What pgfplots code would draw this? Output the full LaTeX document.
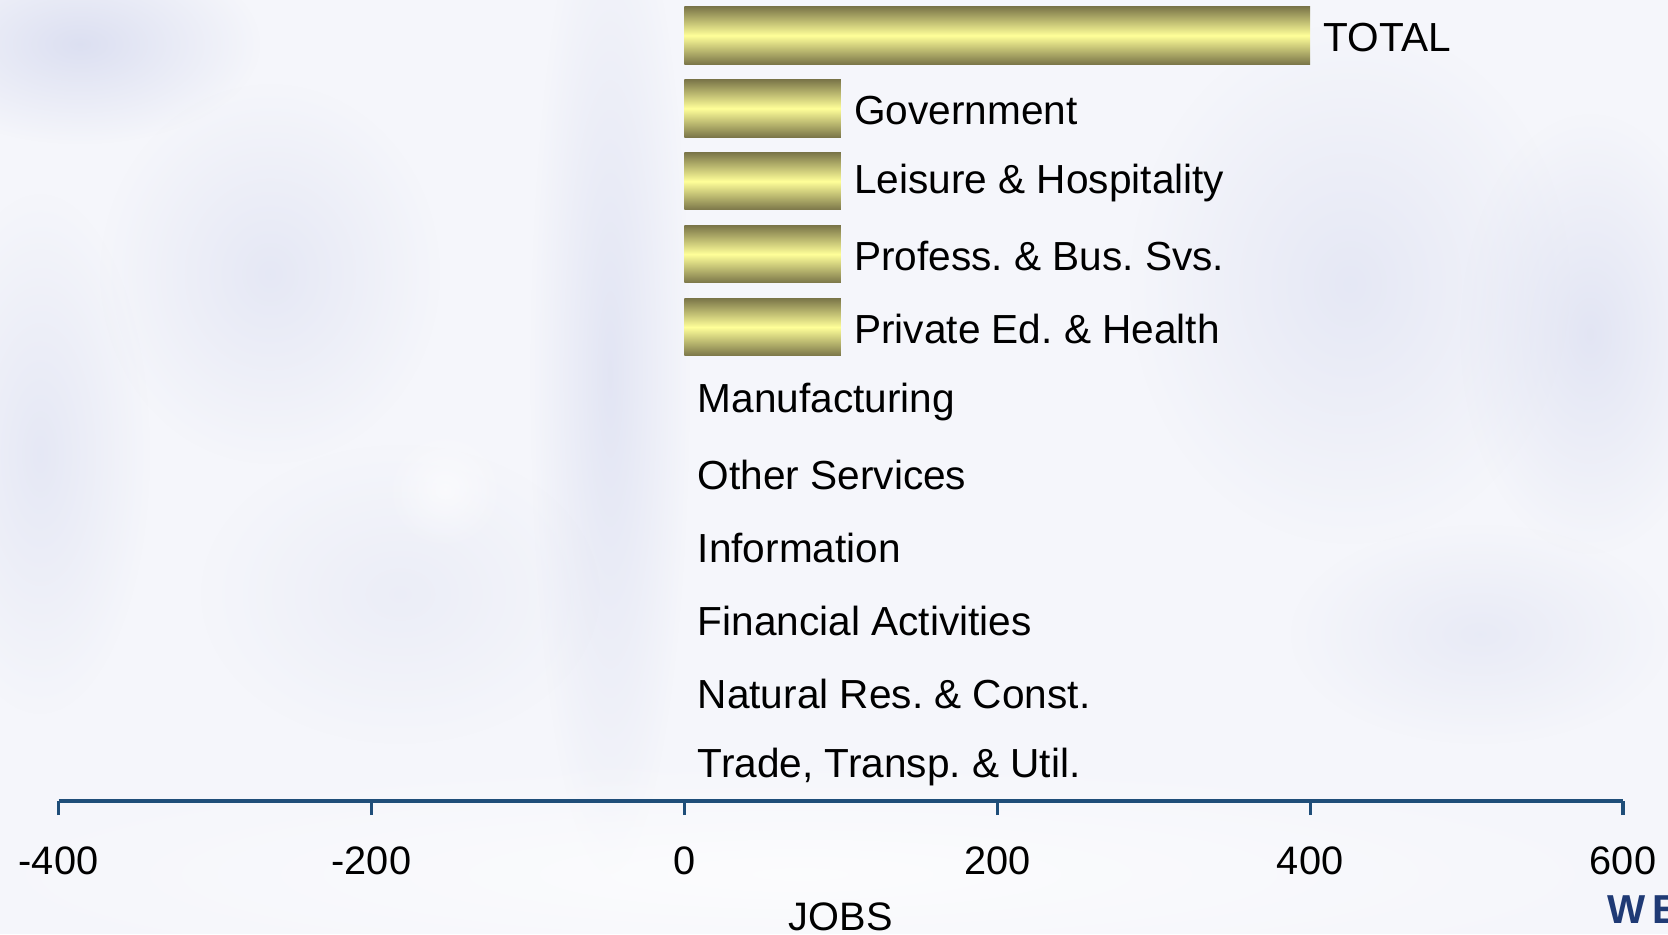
\documentclass[border=0pt]{standalone}
\usepackage{fontspec}
\setmainfont{Liberation Sans}
\usepackage{pgfplots}
\pgfplotsset{compat=1.18}
\usetikzlibrary{fadings}
\tikzfading[name=blobfade, inner color=transparent!0, outer color=transparent!100]
\definecolor{axisblue}{HTML}{1F4E79}
\definecolor{barolive}{HTML}{7B7649}
\definecolor{baryellow}{HTML}{FFFF99}
\definecolor{bgbase}{HTML}{F5F6FB}
\definecolor{bglav}{HTML}{D6DAEF}
\definecolor{logoblue}{HTML}{1F3A75}
\newcommand{\lblfont}{\fontsize{11.55}{14}\selectfont}
\newcommand{\tickfont}{\fontsize{11.3}{13.5}\selectfont}
\frenchspacing
\pgfplotsset{goldbar/.style={draw=none, top color=barolive, bottom color=barolive, middle color=baryellow}}
\begin{document}
\begin{tikzpicture}[x=1cm,y=1cm]
\useasboundingbox (0,0) rectangle (16.68,9.34);
\clip (0,0) rectangle (16.68,9.34);
\fill[bgbase] (0,0) rectangle (16.68,9.34);
% blurred background
\fill[bglav, path fading=blobfade, opacity=0.8] (0.8,8.9) ellipse (1.8 and 1.0);
\fill[bglav, path fading=blobfade, opacity=0.5] (0.4,4.8) ellipse (1.1 and 2.6);
\fill[bglav, path fading=blobfade, opacity=0.5] (2.7,6.6) ellipse (1.7 and 1.9);
\fill[bglav, path fading=blobfade, opacity=0.6] (6.1,5.6) ellipse (0.8 and 5.0);
\fill[bglav, path fading=blobfade, opacity=0.5] (13.5,6.5) ellipse (2.2 and 2.6);
\fill[bglav, path fading=blobfade, opacity=0.6] (15.9,6.0) ellipse (1.3 and 2.2);
\fill[bglav, path fading=blobfade, opacity=0.4] (14.8,3.0) ellipse (1.9 and 1.1);
\fill[bglav, path fading=blobfade, opacity=0.3] (4.0,3.4) ellipse (2.0 and 1.5);
\fill[white, path fading=blobfade, opacity=0.6] (4.45,4.45) circle (0.6);
\fill[white, path fading=blobfade, opacity=0.7] (8.0,0.6) ellipse (9 and 1.2);
\begin{axis}[
  at={(0.585cm,1.33cm)}, anchor=south west,
  scale only axis, width=15.645cm, height=8.02cm,
  xmin=-400, xmax=600, ymin=-0.5, ymax=10.5,
  xbar, bar width=0.574cm, bar shift=0pt,
  axis x line=bottom, axis y line=none,
  x axis line style={-, axisblue, line width=0.9pt},
  xtick={-400,-200,0,200,400,600}, ytick=\empty,
  tick align=outside, major tick length=0.14cm,
  xtick style={axisblue, line width=0.9pt},
  /pgf/number format/assume math mode=true,
  xticklabel style={font=\tickfont, anchor=base, yshift=-0.59cm, inner sep=0pt},
  xlabel={JOBS},
  xlabel style={font=\tickfont, at={(axis description cs:0.5,0)}, anchor=base, yshift=-1.295cm, inner sep=0pt},
  point meta=explicit symbolic,
  nodes near coords={\pgfplotspointmeta},
  nodes near coords style={font=\lblfont, text=black, anchor=west, inner sep=0pt, xshift=0.128cm, yshift=-0.02cm},
  clip=false,
]
\addplot[goldbar] coordinates {(400,10) [TOTAL]};
\addplot[goldbar] coordinates {(100,9) [Government]};
\addplot[goldbar] coordinates {(100,8) [Leisure \& Hospitality]};
\addplot[goldbar] coordinates {(100,7) [Profess. \& Bus. Svs.]};
\addplot[goldbar] coordinates {(100,6) [Private Ed. \& Health]};
\addplot[draw=none, fill=none]
  coordinates {
    (0,5) [Manufacturing]
    (0,4) [Other Services]
    (0,3) [Information]
    (0,2) [Financial Activities]
    (0,1) [Natural Res. \& Const.]
    (0,0) [Trade, Transp. \& Util.]
  };
\end{axis}
\node[anchor=base west, inner sep=0pt, text=logoblue, font=\fontsize{11.5}{13}\bfseries] at (16.07,0.11) {W\,E};
\end{tikzpicture}
\end{document}
